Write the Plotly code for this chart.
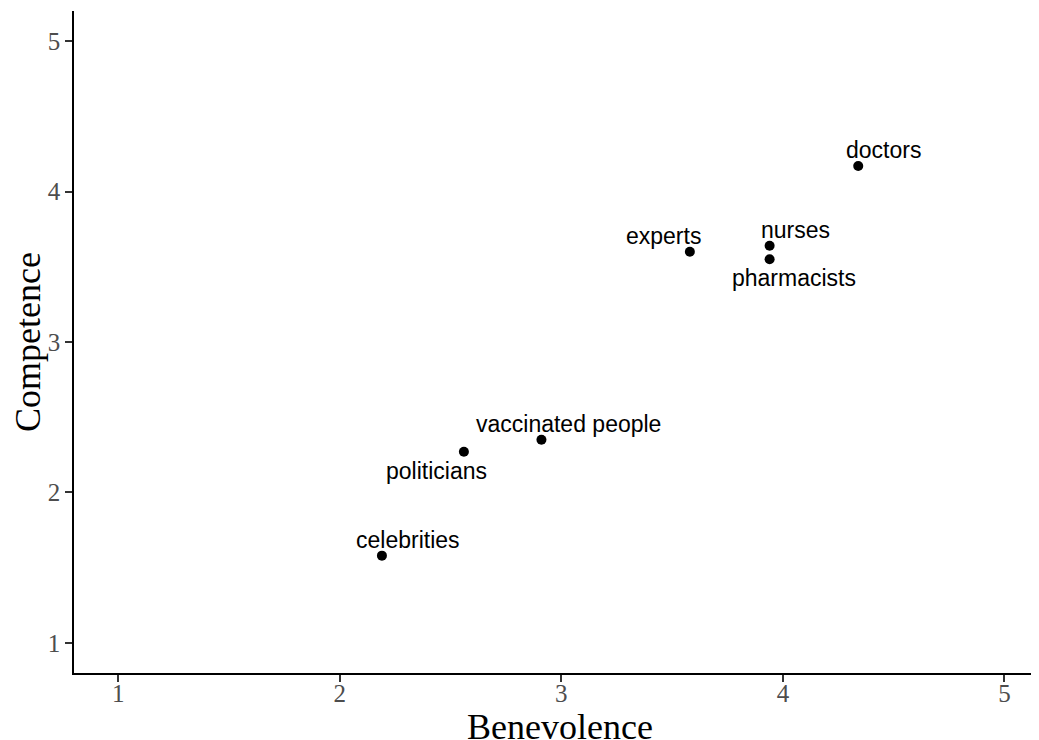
import plotly.graph_objects as go

groups = ["doctors", "nurses", "pharmacists", "experts",
          "vaccinated people", "politicians", "celebrities"]
benevolence = [4.34, 3.94, 3.94, 3.58, 2.91, 2.56, 2.19]
competence = [4.17, 3.64, 3.55, 3.60, 2.35, 2.27, 1.58]
x_ticks = [1, 2, 3, 4, 5]
y_ticks = [1, 2, 3, 4, 5]
x_title = "Benevolence"
y_title = "Competence"

# label placement (pixel offsets, like ggrepel)
label_dx = [25, 26, 24, -26, 27, -27, 26]
label_dy = [16, 16, -19, 16, 16, -19, 16]

fig = go.Figure()
fig.add_trace(go.Scatter(
    x=benevolence, y=competence, mode="markers",
    marker=dict(color="black", size=10),
    hoverinfo="skip", showlegend=False,
))

for g, xv, yv, dx, dy in zip(groups, benevolence, competence, label_dx, label_dy):
    fig.add_annotation(
        x=xv, y=yv, text=g, showarrow=False,
        xanchor="center", yanchor="middle",
        xshift=dx, yshift=dy,
        font=dict(family="Liberation Sans, Arial", size=23, color="black"),
    )

# x-axis title placed as paper annotation so it can sit at the very bottom
fig.add_annotation(
    x=0.5, y=0, xref="paper", yref="paper", text=x_title, showarrow=False,
    xanchor="center", yanchor="top", xshift=3, yshift=-32,
    font=dict(family="Liberation Serif, Times New Roman", size=36, color="black"),
)

axis_common = dict(
    showgrid=False, zeroline=False,
    showline=True, linecolor="black", linewidth=1.5,
    ticks="outside", ticklen=7, tickwidth=1.5, tickcolor="#333333",
    tickfont=dict(family="Liberation Serif, Times New Roman", size=25, color="#4d4d4d"),
    automargin=False,
)

fig.update_layout(
    width=1031, height=732,
    margin=dict(l=66, r=0, t=3, b=67),
    paper_bgcolor="white", plot_bgcolor="white",
    xaxis=dict(range=[0.8, 5.156], tickvals=x_ticks, ticklabelstandoff=-10,
               **axis_common),
    yaxis=dict(range=[0.8, 5.2], tickvals=y_ticks,
               title=dict(text=y_title, standoff=13,
                          font=dict(family="Liberation Serif, Times New Roman", size=36, color="black")),
               **axis_common),
)

fig.write_html(
    "out.html",
    post_script="document.documentElement.style.overflow='hidden';"
                "document.body.style.overflow='hidden';",
)
